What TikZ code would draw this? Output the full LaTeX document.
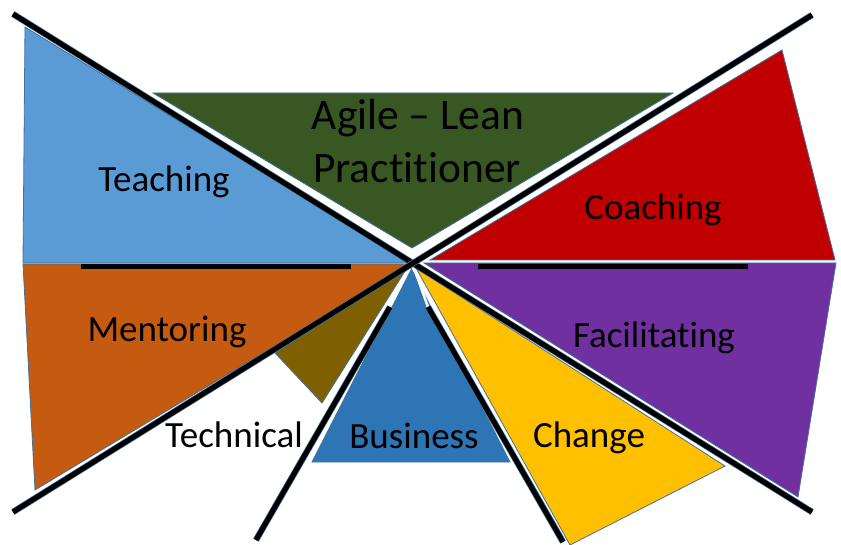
\documentclass[tikz,border=0pt]{standalone}
\usepackage{fontspec}
\setmainfont{Carlito}[Ligatures={TeX,NoCommon}]

\definecolor{teachblue}{HTML}{5B9BD5}
\definecolor{agilegreen}{HTML}{385723}
\definecolor{coachred}{HTML}{C00000}
\definecolor{mentororange}{HTML}{C55A11}
\definecolor{facilpurple}{HTML}{7030A0}
\definecolor{techolive}{HTML}{7F6000}
\definecolor{busblue}{HTML}{2E75B6}
\definecolor{changeyellow}{HTML}{FFC000}
\definecolor{edgeblue}{HTML}{41719C}

\tikzset{
    piece/.style={draw=edgeblue, line width=0.8pt},
    cut/.style={draw=edgeblue, line width=0.7pt, double=black, double distance=5pt},
    bar/.style={draw=edgeblue, line width=0.7pt, double=black, double distance=4.2pt},
    word/.style={anchor=base, inner sep=0pt, font=\fontsize{37}{44}\selectfont},
}

\begin{document}
\begin{tikzpicture}[x=1pt, y=-1pt]
\useasboundingbox (0,0) rectangle (841,545);

\draw[piece, fill=teachblue] (25,27) -- (411,263) -- (23,263) -- cycle;
\draw[piece, fill=mentororange] (23,264) -- (411,264) -- (35,490) -- cycle;
\draw[piece, fill=agilegreen] (153,93) -- (673,93) -- (412,248) -- cycle;
\draw[piece, fill=coachred] (430,260) -- (782,50) -- (835,260) -- cycle;
\draw[piece, fill=facilpurple] (424,263) -- (836,263) -- (798,497) -- cycle;
\draw[piece, fill=techolive] (407,268) -- (275,353) -- (322,403) -- cycle;
\draw[piece, fill=busblue] (411,268) -- (510,462) -- (312,462) -- cycle;
\draw[piece, fill=changeyellow] (416,268) -- (725,466) -- (570,545) -- cycle;

% business edges
\draw[white, line width=2.5pt] (410,268) -- (390,307);
\draw[white, line width=2.5pt] (414,268) -- (428,307);
\draw[cut] (390,307) -- (256,540);
\draw[cut] (428,307) -- (563,542);

% the big cross
\draw[cut] (13,14) -- (812,512);
\draw[cut] (13,512) -- (812,15);

\foreach \a/\b in {81/351, 478/748}
{
    \draw[bar] (\a,266.5) -- (\b,266.5);
}

\node[word, font=\fontsize{43.5}{52}\selectfont] (agile) at (418,130) {Agile – Lean};
\node[word, font=\fontsize{43.5}{52}\selectfont] (practitioner) at (417,183) {Practitioner};
\node[word] (teaching) at (164,192) {Teaching};
\node[word] (coaching) at (653,220) {Coaching};
\node[word] (mentoring) at (167,342) {Mentoring};
\node[word] (facilitating) at (654,348) {Facilitating};
\node[word] (technical) at (234,447) {Technical};
\node[word] (business) at (414,448) {Business};
\node[word] (change) at (589,447) {Change};

\end{tikzpicture}
\end{document}
